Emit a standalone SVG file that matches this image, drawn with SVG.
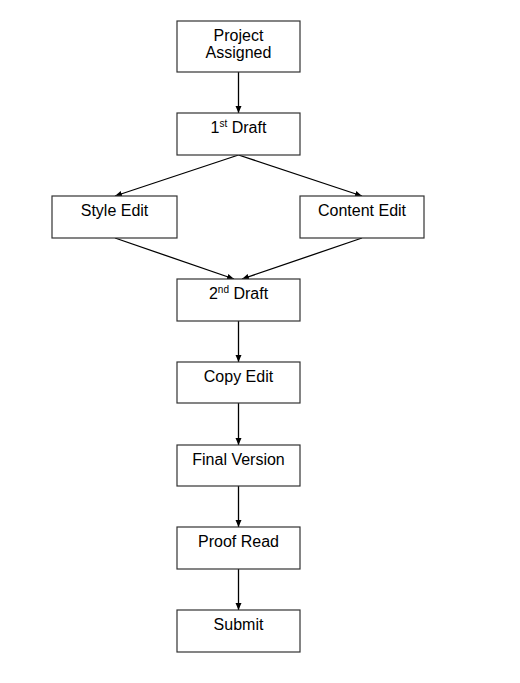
<svg xmlns="http://www.w3.org/2000/svg" width="520" height="683" viewBox="0 0 520 683">
<style>
.box{fill:#fff;stroke:#333;stroke-width:1.2}
.t{font-family:"Liberation Sans",Arial,sans-serif;font-size:16px;fill:#000;text-anchor:middle}
.sup{font-size:10px}
.c{stroke:#000;stroke-width:1.3;fill:none;marker-end:url(#ah)}
</style>
<defs>
<marker id="ah" markerWidth="8" markerHeight="8" refX="7" refY="4" orient="auto" markerUnits="userSpaceOnUse">
<path d="M0,1 L7,4 L0,7 Z" fill="#000"/>
</marker>
</defs>
<rect width="520" height="683" fill="#fff"/>
<g id="connectors">
<line class="c" x1="238.5" y1="72" x2="238.5" y2="113"/>
<line class="c" x1="238.5" y1="155" x2="115" y2="196"/>
<line class="c" x1="238.5" y1="155" x2="362" y2="196"/>
<line class="c" x1="115" y1="238" x2="234" y2="279"/>
<line class="c" x1="362" y1="238" x2="242" y2="279"/>
<line class="c" x1="238.5" y1="321" x2="238.5" y2="362"/>
<line class="c" x1="238.5" y1="403" x2="238.5" y2="445"/>
<line class="c" x1="238.5" y1="486" x2="238.5" y2="527"/>
<line class="c" x1="238.5" y1="569" x2="238.5" y2="610"/>
</g>
<g id="project-assigned">
<rect class="box" x="177" y="21" width="123" height="51"/>
<text class="t" x="238.5" y="41">Project</text>
<text class="t" x="238.5" y="58">Assigned</text>
</g>
<g id="first-draft">
<rect class="box" x="177" y="113" width="123" height="42"/>
<text class="t" x="238.5" y="133">1<tspan class="sup" dy="-6">st</tspan><tspan dy="6"> Draft</tspan></text>
</g>
<g id="style-edit">
<rect class="box" x="52" y="196" width="125" height="42"/>
<text class="t" x="114.5" y="216">Style Edit</text>
</g>
<g id="content-edit">
<rect class="box" x="300" y="196" width="124" height="42"/>
<text class="t" x="362" y="216">Content Edit</text>
</g>
<g id="second-draft">
<rect class="box" x="177" y="279" width="123" height="42"/>
<text class="t" x="238.5" y="299">2<tspan class="sup" dy="-6">nd</tspan><tspan dy="6"> Draft</tspan></text>
</g>
<g id="copy-edit">
<rect class="box" x="177" y="362" width="123" height="41"/>
<text class="t" x="238.5" y="382">Copy Edit</text>
</g>
<g id="final-version">
<rect class="box" x="177" y="445" width="123" height="41"/>
<text class="t" x="238.5" y="465">Final Version</text>
</g>
<g id="proof-read">
<rect class="box" x="177" y="527" width="123" height="42"/>
<text class="t" x="238.5" y="547">Proof Read</text>
</g>
<g id="submit">
<rect class="box" x="177" y="610" width="123" height="42"/>
<text class="t" x="238.5" y="630">Submit</text>
</g>
</svg>
